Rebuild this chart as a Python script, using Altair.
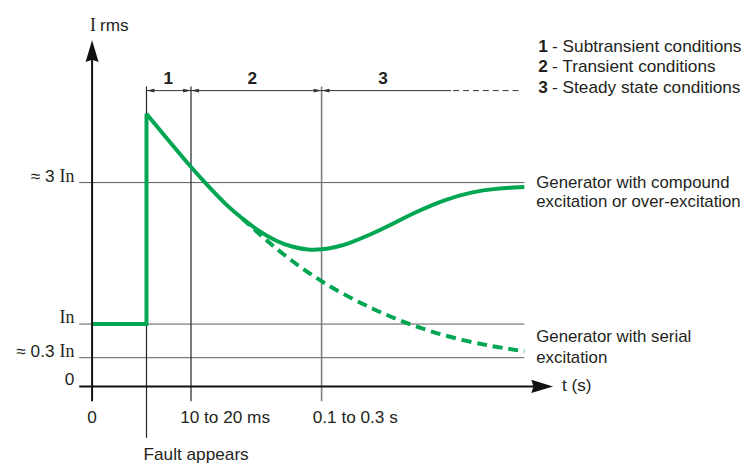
import altair as alt
import pandas as pd

# ---- data (schematic units: In = 1 on the current axis) ----
step_t = [0, 5.5, 5.5]
step_i = [1, 1, 4.373]

comp_t = [5.5, 7.7, 10, 11.4, 13.5, 15.2, 16.9, 18.5, 20.2, 21.9, 23.2, 24.7, 25.7,
          28.4, 30.7, 33.0, 35.7, 38.4, 40.7, 43.7]
comp_i = [4.373, 3.952, 3.516, 3.271, 2.916, 2.689, 2.486, 2.338, 2.235, 2.189, 2.194,
          2.238, 2.278, 2.452, 2.635, 2.817, 3.0, 3.119, 3.175, 3.198]

ser_t = [15.2, 16.5, 17.9, 19.3, 21.0, 23.2, 25.7, 28.4, 31.0, 34.0, 37.4, 40.7, 43.7]
ser_i = [2.689, 2.502, 2.306, 2.124, 1.919, 1.681, 1.454, 1.240, 1.062, 0.890,
         0.740, 0.635, 0.563]

level_vals = [0, 0.46, 1, 3.27]
level_prefix = ["≈ 0.3", "≈ 3"]       # sans part of the approximate level labels
level_in_vals = [0.46, 1, 3.27]        # levels whose label ends with "In"

time_marks = [5.5, 10, 23.2]          # fault, 10-20 ms, 0.1-0.3 s
time_labels = ["10 to 20 ms", "0.1 to 0.3 s"]
phase_nums = ["1", "2", "3"]
phase_x = [7.7, 16.2, 29.4]
phase_names = ["- Subtransient conditions", "- Transient conditions", "- Steady state conditions"]
gen_labels = ["Generator with compound", "excitation or over-excitation",
              "Generator with serial", "excitation"]

GREEN = "#00a651"
TXT = "#231f20"
FONT = "Liberation Sans"
SERIF = "Liberation Serif"
FS = 17.4

xs = alt.Scale(domain=[-8.5, 65.9], nice=False, zero=False)
ys = alt.Scale(domain=[-1.206, 6.032], nice=False, zero=False)


def ex(f="x"):
    return alt.X(f"{f}:Q", scale=xs, axis=None)


def ey(f="y"):
    return alt.Y(f"{f}:Q", scale=ys, axis=None)


# ---- reference lines ----
hlines = pd.DataFrame({"x": [-1.3] * 3, "x2": [43.7] * 3, "y": level_vals[1:]})
h_layer = alt.Chart(hlines).mark_rule(color="#58595b", strokeWidth=1).encode(
    x=ex(), x2=alt.X2("x2:Q"), y=ey())

xaxis = pd.DataFrame({"x": [-1.3], "x2": [44.8], "y": [0]})
xaxis_layer = alt.Chart(xaxis).mark_rule(color="#111", strokeWidth=2).encode(
    x=ex(), x2=alt.X2("x2:Q"), y=ey())

yaxis = pd.DataFrame({"x": [0], "y": [-0.238], "y2": [5.25]})
yaxis_layer = alt.Chart(yaxis).mark_rule(color="#111", strokeWidth=2).encode(
    x=ex(), y=ey(), y2=alt.Y2("y2:Q"))

vl = pd.DataFrame({"x": time_marks, "y": [-0.825, -0.238, -0.238], "y2": [4.81] * 3,
                   "c": ["#222", "#222", "#808080"], "w": [1.2, 1.2, 1.6]})
v_layer = alt.Chart(vl).mark_rule().encode(
    x=ex(), y=ey(), y2=alt.Y2("y2:Q"),
    color=alt.Color("c:N", scale=None), strokeWidth=alt.StrokeWidth("w:Q", scale=None))

bracket = pd.DataFrame({"x": [5.5], "x2": [36.3], "y": [4.746]})
br_layer = alt.Chart(bracket).mark_rule(color="#333", strokeWidth=1).encode(
    x=ex(), x2=alt.X2("x2:Q"), y=ey())
bracket_d = pd.DataFrame({"x": [36.5], "x2": [43.1], "y": [4.746]})
brd_layer = alt.Chart(bracket_d).mark_rule(color="#333", strokeWidth=1, strokeDash=[6, 4]).encode(
    x=ex(), x2=alt.X2("x2:Q"), y=ey())

left_heads = pd.DataFrame({"x": [t + 0.4 for t in time_marks], "y": [4.746] * 3})
right_heads = pd.DataFrame({"x": [t - 0.4 for t in time_marks[1:]], "y": [4.746] * 2})
lh_layer = alt.Chart(left_heads).mark_point(
    shape="M-1,0L1,-0.45L1,0.45Z", size=64, filled=True, color="#333", opacity=1, strokeWidth=0
).encode(x=ex(), y=ey())
rh_layer = alt.Chart(right_heads).mark_point(
    shape="M1,0L-1,-0.45L-1,0.45Z", size=64, filled=True, color="#333", opacity=1, strokeWidth=0
).encode(x=ex(), y=ey())

yarrow = pd.DataFrame({"x": [0], "y": [5.381]})
ya_layer = alt.Chart(yarrow).mark_point(
    shape="M0,-1L0.6,1L0,0.8L-0.6,1Z", size=484, filled=True, color="#111", opacity=1, strokeWidth=0
).encode(x=ex(), y=ey())
xarrow = pd.DataFrame({"x": [45.5], "y": [0]})
xa_layer = alt.Chart(xarrow).mark_point(
    shape="M1,0L-1,-0.6L-0.8,0L-1,0.6Z", size=484, filled=True, color="#111", opacity=1, strokeWidth=0
).encode(x=ex(), y=ey())

# ---- curves ----
step_df = pd.DataFrame({"x": step_t, "y": step_i, "o": range(len(step_t))})
step_layer = alt.Chart(step_df).mark_line(color=GREEN, strokeWidth=4, strokeJoin="miter").encode(
    x=ex(), y=ey(), order="o:Q")
comp_df = pd.DataFrame({"x": comp_t, "y": comp_i})
comp_layer = alt.Chart(comp_df).mark_line(color=GREEN, strokeWidth=4, interpolate="basis").encode(
    x=ex(), y=ey())
ser_df = pd.DataFrame({"x": ser_t, "y": ser_i})
ser_layer = alt.Chart(ser_df).mark_line(color=GREEN, strokeWidth=4, strokeDash=[10, 6],
                                        interpolate="basis").encode(x=ex(), y=ey())


# ---- texts ----
def txt(df, **kw):
    base = dict(font=FONT, fontSize=FS, color=TXT, baseline="middle")
    base.update(kw)
    return alt.Chart(df).mark_text(**base).encode(x=ex(), y=ey(), text="t:N")


y_in = txt(pd.DataFrame({"x": [-1.8] * 3, "y": level_in_vals, "t": ["In"] * 3}),
           align="right", dy=-6, font=SERIF, fontSize=18)
y_pre = txt(pd.DataFrame({"x": [-3.8] * 2, "y": [level_vals[1], level_vals[3]], "t": level_prefix}),
            align="right", dy=-6)
y_zero = txt(pd.DataFrame({"x": [-1.8], "y": [0], "t": ["0"]}), align="right", dy=-6)
i_serif = txt(pd.DataFrame({"x": [-0.2], "y": [5.778], "t": ["I"]}), align="left", font=SERIF,
              fontSize=18)
rms = txt(pd.DataFrame({"x": [0.8], "y": [5.778], "t": ["rms"]}), align="left")
x0 = txt(pd.DataFrame({"x": [0], "y": [-0.508], "t": ["0"]}), align="center")
xlab = txt(pd.DataFrame({"x": [time_marks[1] - 1.1, time_marks[2] - 0.9], "y": [-0.508] * 2,
                         "t": time_labels}), align="left")
fault = txt(pd.DataFrame({"x": [5.2], "y": [-1.095], "t": ["Fault appears"]}), align="left")
tlab = txt(pd.DataFrame({"x": [47.5], "y": [0], "t": ["t (s)"]}), align="left")
phase = txt(pd.DataFrame({"x": phase_x, "y": [4.937] * 3, "t": phase_nums}), align="center",
            fontWeight="bold")
leg_y = [5.444, 5.127, 4.794]
leg_n = txt(pd.DataFrame({"x": [45.1] * 3, "y": leg_y, "t": phase_nums}), align="left", fontWeight="bold")
leg_t = txt(pd.DataFrame({"x": [46.5] * 3, "y": leg_y, "t": phase_names}), align="left")
gen = txt(pd.DataFrame({"x": [44.9] * 4, "y": [3.27, 2.952, 0.794, 0.46], "t": gen_labels}),
          align="left", fontSize=17)

chart = alt.layer(
    h_layer, v_layer, br_layer, brd_layer, lh_layer, rh_layer,
    step_layer, comp_layer, ser_layer,
    xaxis_layer, yaxis_layer, ya_layer, xa_layer,
    y_in, y_pre, y_zero, i_serif, rms, x0, xlab, fault, tlab, phase, leg_n, leg_t, gen,
).properties(width=744, height=456, padding=0, autosize="none").configure_view(stroke=None)

chart.save("out.html", embed_options={"renderer": "svg", "actions": False})
